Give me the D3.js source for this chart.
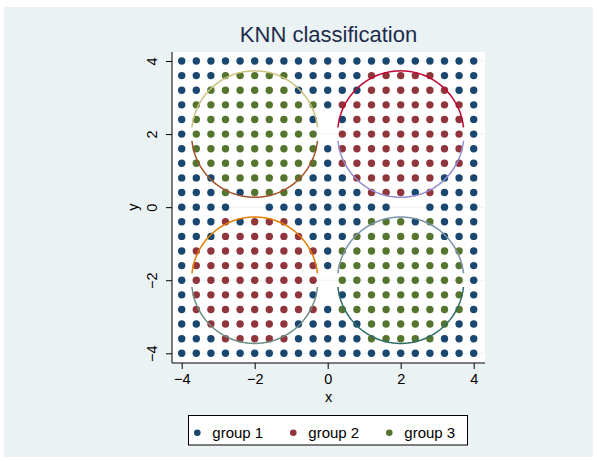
<!DOCTYPE html>
<html>
<head>
<meta charset="utf-8">
<script src="https://cdn.jsdelivr.net/npm/d3@7"></script>
<style>
  body { margin: 0; background: #fff; }
  text { font-family: "Liberation Sans", Arial, sans-serif; }
</style>
</head>
<body>
<svg id="chart" width="597" height="461"></svg>
<script>
// grid of evaluated points
const gridX = [-4, -3.6, -3.2, -2.8, -2.4, -2, -1.6, -1.2, -0.8, -0.4, 0, 0.4, 0.8, 1.2, 1.6, 2, 2.4, 2.8, 3.2, 3.6, 4]
const gridY = [4, 3.6, 3.2, 2.8, 2.4, 2, 1.6, 1.2, 0.8, 0.4, 0, -0.4, -0.8, -1.2, -1.6, -2, -2.4, -2.8, -3.2, -3.6, -4]

// predicted group per grid cell, one string per row (top to bottom)
// B = group 1, R = group 2, G = group 3, . = no prediction
const classRows = [
    "BBBBBBBBBBBBBBBBBBBBB",
    "BBBGGGGGBBBBBRRRRRBBB",
    "BBGGGGGGBBBBBRRRRRRBB",
    "BGGGGGGGGGBRRRRRRRRRB",
    "BGGGGGGGGB.BRRRRRRRRB",
    "BGGGGGGGGG.RRRRRRRRRB",
    "BGGGGGGGGGBRRRRRRRRRB",
    "BGGGGGGGGGBRRRRRRRRRB",
    "BBBGGGGGGBBBRRRRRRBBB",
    "BBBGBGGGBBBBBRRRBRBBB",
    "BBBB..BBBBBBBBB..BBBB",
    "BBBRBRRRBBBBBGGGBGBBB",
    "BBBRRRRRRBBBGGGGGGBBB",
    "BRRRRRRRRRBGGGGGGGGGB",
    "BRRRRRRRRRBGGGGGGGGGB",
    "BRRRRRRRRR.GGGGGGGGGB",
    "BRRRRRRRRB.BGGGGGGGGB",
    "BRRRRRRRRRBGGGGGGGGGB",
    "BBRRRRRRBBBBBGGGGGGBB",
    "BBBRRRRRBBBBBGGGGGBBB",
    "BBBBBBBBBBBBBBBBBBBBB"
]

const groupKeys = ["B", "R", "G"]
const groupNames = ["group 1", "group 2", "group 3"]
const groupColors = ["#1a476f", "#90353b", "#55752f"]

// circle overlays: centre, radius, half-width of plotted range
const circleCenters = [[-2, -2], [2, 2], [-2, 2], [2, -2]]
const circleRadius = 1.73
const circleHalfRange = 1.72
// upper / lower arc colours in the order of circleCenters
const upperColors = ["#e37e00", "#c10534", "#cac27e", "#7b92a8"]
const lowerColors = ["#6e8e84", "#938dd2", "#a0522d", "#2d6d66"]

const xTicks = [-4, -2, 0, 2, 4]
const yTicks = [-4, -2, 0, 2, 4]

const svg = d3.select("#chart")

// graph region
svg.append("rect")
    .attr("x", 4).attr("y", 7)
    .attr("width", 589).attr("height", 450)
    .attr("fill", "#eaf2f3")

let xScale = d3.scaleLinear().domain([-4, 4]).range([181.7, 473.7])
let yScale = d3.scaleLinear().domain([-4, 4]).range([353.3, 61])

let plotLeft = 172, plotRight = 485, plotTop = 52, plotBottom = 363

svg.append("rect")
    .attr("x", plotLeft).attr("y", plotTop)
    .attr("width", plotRight - plotLeft).attr("height", plotBottom - plotTop)
    .attr("fill", "#fff")

// horizontal grid lines
svg.append("g")
    .selectAll("line")
    .data(yTicks)
    .enter()
    .append("line")
    .attr("x1", plotLeft).attr("x2", plotRight)
    .attr("y1", d => yScale(d)).attr("y2", d => yScale(d))
    .attr("stroke", "#eaf2f3")
    .attr("stroke-width", 1)

let fmt = d => d < 0 ? "\u2212" + Math.abs(d) : String(d)

// points
let points = []
classRows.forEach((row, i) => {
    row.split("").forEach((c, j) => {
        let g = groupKeys.indexOf(c)
        if (g >= 0) points.push({ x: gridX[j], y: gridY[i], g: g })
    })
})
points.sort((a, b) => a.g - b.g)

svg.append("g")
    .selectAll("circle")
    .data(points)
    .enter()
    .append("circle")
    .attr("cx", d => xScale(d.x))
    .attr("cy", d => yScale(d.y))
    .attr("r", 3.7)
    .attr("fill", d => groupColors[d.g])

// circle arcs drawn as two function plots each
let line = d3.line()
    .x(d => xScale(d[0]))
    .y(d => yScale(d[1]))

circleCenters.forEach((c, i) => {
    let xs = d3.range(0, 201).map(k => c[0] - circleHalfRange + k * (2 * circleHalfRange) / 200)
    let up = xs.map(x => [x, c[1] + Math.sqrt(Math.max(0, circleRadius * circleRadius - (x - c[0]) ** 2))])
    let lo = xs.map(x => [x, c[1] - Math.sqrt(Math.max(0, circleRadius * circleRadius - (x - c[0]) ** 2))])
    svg.append("path").datum(up)
        .attr("fill", "none").attr("stroke", upperColors[i]).attr("stroke-width", 1.5)
        .attr("d", line)
    svg.append("path").datum(lo)
        .attr("fill", "none").attr("stroke", lowerColors[i]).attr("stroke-width", 1.5)
        .attr("d", line)
})

// y axis
let yAxis = svg.append("g")
    .attr("transform", `translate(${plotLeft},0)`)
    .call(d3.axisLeft(yScale).tickValues(yTicks).tickSize(6).tickFormat(fmt))
yAxis.select(".domain").attr("d", `M0,${plotTop}V${plotBottom}`).attr("stroke", "#000")
yAxis.selectAll(".tick line").attr("stroke", "#000")
yAxis.selectAll(".tick text")
    .attr("transform", "rotate(-90)")
    .attr("x", 0).attr("y", -15).attr("dy", 0)
    .attr("text-anchor", "middle")
    .attr("font-size", 14.5)
    .attr("font-family", "Liberation Sans, Arial, sans-serif")
    .attr("fill", "#000")

// x axis
let xAxis = svg.append("g")
    .attr("transform", `translate(0,${plotBottom})`)
    .call(d3.axisBottom(xScale).tickValues(xTicks).tickSize(6).tickFormat(fmt))
xAxis.select(".domain").attr("d", `M${plotLeft},0H${plotRight}`).attr("stroke", "#000")
xAxis.selectAll(".tick line").attr("stroke", "#000")
xAxis.selectAll(".tick text")
    .attr("y", 21).attr("dy", 0)
    .attr("font-size", 14.5)
    .attr("font-family", "Liberation Sans, Arial, sans-serif")
    .attr("fill", "#000")

// axis titles
svg.append("text")
    .attr("x", (plotLeft + plotRight) / 2).attr("y", 402)
    .attr("text-anchor", "middle")
    .attr("font-size", 14.5)
    .text("x")
svg.append("text")
    .attr("transform", `translate(138,${yScale(0)}) rotate(-90)`)
    .attr("text-anchor", "middle")
    .attr("font-size", 14.5)
    .text("y")

// title
svg.append("text")
    .attr("x", (plotLeft + plotRight) / 2).attr("y", 42)
    .attr("text-anchor", "middle")
    .attr("font-size", 22)
    .attr("fill", "#1e2c4c")
    .text("KNN classification")

// legend
let legend = svg.append("g")
legend.append("rect")
    .attr("x", 188.5).attr("y", 415.5)
    .attr("width", 279).attr("height", 29.5)
    .attr("fill", "#fff").attr("stroke", "#000").attr("stroke-width", 1)

let item = legend.selectAll("g.item")
    .data(groupNames)
    .enter()
    .append("g")
    .attr("class", "item")
    .attr("transform", (d, i) => `translate(${197.3 + i * 96},432.7)`)
item.append("circle")
    .attr("r", 3.3)
    .attr("fill", (d, i) => groupColors[i])
item.append("text")
    .attr("x", 15).attr("y", 5)
    .attr("font-size", 15)
    .text(d => d)
</script>
</body>
</html>
